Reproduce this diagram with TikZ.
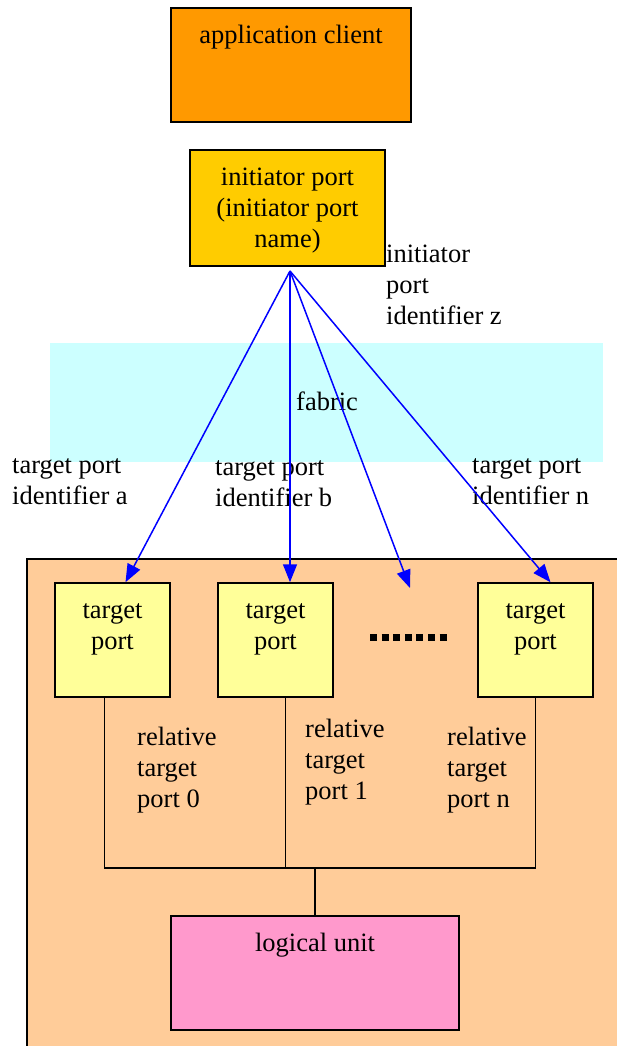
\documentclass[tikz,border=0pt]{standalone}
\usepackage{fontspec}
\setmainfont{Liberation Serif}
\usetikzlibrary{arrows.meta}
\definecolor{appc}{HTML}{FF9900}
\definecolor{initc}{HTML}{FFCC00}
\definecolor{fabc}{HTML}{CCFFFF}
\definecolor{devc}{HTML}{FFCC99}
\definecolor{tportc}{HTML}{FFFF99}
\definecolor{luc}{HTML}{FF99CC}
\begin{document}
\begin{tikzpicture}[x=1pt,y=-1pt,
  every node/.style={font=\fontsize{26.5}{31}\selectfont},
  box/.style={draw, line width=1.5pt},
  toptext/.style={anchor=north, yshift=-14pt},
  txt/.style={anchor=north west, inner sep=0pt, align=left},
  fab/.style={draw=blue, line width=1.5pt, -{Triangle[length=18pt,width=14pt]}}]
\useasboundingbox (0,0) rectangle (617,1046);
\fill [fabc] (50,343) rectangle (603,462);
\draw [box, fill=devc] (27,559) rectangle (640,1070);
\node [box, fill=appc, minimum width=240, minimum height=114, label={[toptext]north:application client}] (app) at (291,65) {};
\node [box, fill=initc, minimum width=195, minimum height=116, label={[toptext, yshift=-1pt, align=center]north:initiator port\\(initiator port\\name)}] (ip) at (287.5,208) {};
\node [txt] (ipid) at (386,245) {initiator\\port\\identifier z};
\node [txt] (fabric) at (296,392) {fabric};
\node [txt] (ida) at (12,458) {target port\\identifier a};
\node [txt] (idb) at (215,460) {target port\\identifier b};
\node [txt] (idn) at (472,458) {target port\\identifier n};
% target ports
\foreach \n/\x in {tpa/112.5, tpb/275.5, tpn/535.5}
  \node [box, fill=tportc, minimum width=115, minimum height=114, label={[toptext, yshift=-4pt, align=center]north:target\\port}] (\n) at (\x,640) {};
\draw [line width=7pt, dash pattern=on 7pt off 4.6pt] (370,637) -- (447,637);
\node [txt] (rel0) at (137,727) {relative\\target\\port 0};
\node [txt] (rel1) at (305,719) {relative\\target\\port 1};
\node [txt] (reln) at (447,727) {relative\\target\\port n};
\node [box, fill=luc, minimum width=288, minimum height=114, label={[toptext]north:logical unit}] (lu) at (315,973) {};
% fabric links
\coordinate (src) at (290,271);
\coordinate (dotend) at (410,588);
\foreach \n/\s in {tpa/13, tpb/14.5, tpn/15}
  \draw [fab] (src) -- ([xshift=\s pt]\n.north);
\draw [fab] (src) -- (dotend);
% relative target port links
\coordinate (bus) at (315,868);
\draw [line width=1.5pt] ([xshift=-8pt]tpa.south) -- ([xshift=-8pt]tpa.south |- bus) -- (tpn.south |- bus) -- (tpn.south);
\draw [line width=1.5pt] ([xshift=10pt]tpb.south) -- ([xshift=10pt]tpb.south |- bus);
\draw [line width=1.5pt] (bus) -- (lu.north);
\end{tikzpicture}
\end{document}
